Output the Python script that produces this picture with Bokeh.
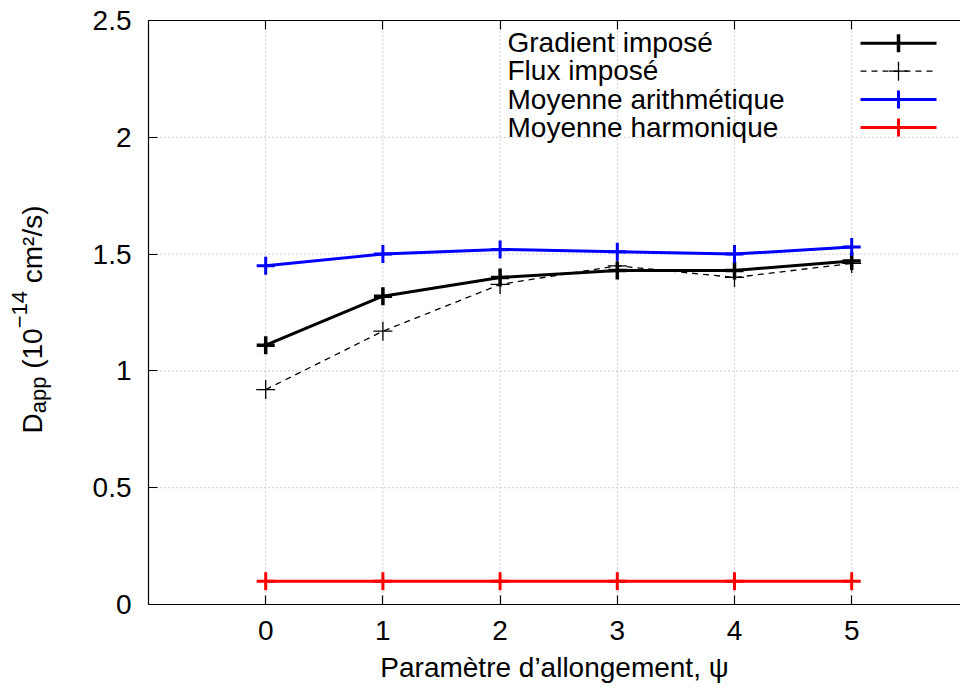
import math
from bokeh.plotting import figure
from bokeh.models import Range1d, FixedTicker, CustomJSTickFormatter, LinearAxis, Label, Arrow
from bokeh.embed import file_html
from bokeh.resources import INLINE

# ---------------- data ----------------
psi = [0, 1, 2, 3, 4, 5]
gradient_impose = [1.11, 1.32, 1.40, 1.43, 1.43, 1.47]
flux_impose = [0.92, 1.17, 1.37, 1.45, 1.40, 1.46]
moyenne_arithmetique = [1.45, 1.50, 1.52, 1.51, 1.50, 1.53]
moyenne_harmonique = [0.10, 0.10, 0.10, 0.10, 0.10, 0.10]

x_ticks = [0, 1, 2, 3, 4, 5]
y_ticks = [0, 0.5, 1, 1.5, 2, 2.5]
x_axis_start = -1

series_labels = ["Gradient imposé", "Flux imposé", "Moyenne arithmétique", "Moyenne harmonique"]
x_label = "Paramètre d\u2019allongement, \u03c8"
# y label pieces: (text, kind)  kind: main / sub / sup
y_label_parts = [("D", "main"), ("app", "sub"), (" (10", "main"), ("\u221214", "sup"), (" cm\u00b2/s)", "main")]

# ---------------- geometry / style ----------------
FONT = "Liberation Sans"
FS = 28
FS_SMALL = 22
W, H = 960, 693
FRAME_L, FRAME_T, FRAME_B = 148, 20, 604     # pixel box of the data area
PX_X = 117.2                                  # pixels per x unit
PX_Y = (FRAME_B - FRAME_T) / (y_ticks[-1] - y_ticks[0])
X_LO = x_axis_start - FRAME_L / PX_X
X_HI = x_axis_start + (W - FRAME_L) / PX_X
Y_LO = y_ticks[0] - (H - FRAME_B) / PX_Y
Y_HI = y_ticks[-1] + FRAME_T / PX_Y


def sy(img_y):
    return H - img_y


p = figure(width=W, height=H, output_backend="svg", toolbar_location=None,
           x_range=Range1d(X_LO, X_HI), y_range=Range1d(Y_LO, Y_HI),
           min_border_left=0, min_border_right=0, min_border_top=0, min_border_bottom=0)
p.outline_line_color = None
p.background_fill_color = "white"
p.border_fill_color = "white"
p.xgrid.visible = False
p.ygrid.visible = False

fmt = CustomJSTickFormatter(code="return tick.toString();")


def style_axis(ax):
    ax.major_tick_in = 9
    ax.major_tick_out = 0
    ax.minor_tick_in = 0
    ax.minor_tick_out = 0
    ax.axis_line_color = "black"
    ax.axis_line_width = 1.2
    ax.major_tick_line_color = "black"
    ax.major_tick_line_width = 1.2
    ax.major_label_text_font = FONT
    ax.major_label_text_font_size = f"{FS}px"
    ax.major_label_text_color = "black"


xa = p.xaxis[0]
ya = p.yaxis[0]
style_axis(xa)
style_axis(ya)
xa.ticker = FixedTicker(ticks=x_ticks)
ya.ticker = FixedTicker(ticks=y_ticks)
xa.formatter = fmt
ya.formatter = fmt
xa.fixed_location = y_ticks[0]
ya.fixed_location = x_axis_start
xa.bounds = (x_axis_start, X_HI)
ya.bounds = (y_ticks[0], y_ticks[-1])
xa.major_label_standoff = 16
ya.major_label_standoff = 17
xa.axis_label = x_label
xa.axis_label_text_font = FONT
xa.axis_label_text_font_size = f"{FS}px"
xa.axis_label_text_font_style = "normal"
xa.axis_label_text_color = "black"
xa.axis_label_standoff = 9

top_axis = LinearAxis(ticker=FixedTicker(ticks=x_ticks),
                      formatter=CustomJSTickFormatter(code="return '';"),
                      fixed_location=y_ticks[-1], bounds=(x_axis_start, X_HI))
style_axis(top_axis)
p.add_layout(top_axis, "above")

# ---------------- grid (dotted) ----------------
grid_style = dict(line_color="#a0a0a0", line_dash="1 3", line_width=1)
p.segment(x0=x_ticks, y0=[y_ticks[0]] * len(x_ticks), x1=x_ticks,
          y1=[y_ticks[-1]] * len(x_ticks), **grid_style)
inner_y = y_ticks[1:-1]
p.segment(x0=[x_axis_start] * len(inner_y), y0=inner_y, x1=[X_HI] * len(inner_y),
          y1=inner_y, **grid_style)

# ---------------- series ----------------
styles = [
    dict(y=gradient_impose, color="black", lw=3, dash="solid", mlw=3.5, size=18),
    dict(y=flux_impose, color="black", lw=1.3, dash="6 5", mlw=1.3, size=19),
    dict(y=moyenne_arithmetique, color="#0000ff", lw=3, dash="solid", mlw=3, size=18),
    dict(y=moyenne_harmonique, color="#ff0000", lw=3, dash="solid", mlw=3, size=18),
]
for s in styles:
    p.line(psi, s["y"], line_color=s["color"], line_width=s["lw"], line_dash=s["dash"])
    p.scatter(psi, s["y"], marker="cross", size=s["size"], line_color=s["color"],
              line_width=s["mlw"])

# ---------------- legend (manual, screen units) ----------------
LEG_TEXT_X = 507
LEG_ROW_Y = [42.7, 70.7, 99.0, 127.0]   # pixel rows from top
SAMPLE_X0, SAMPLE_X1, SAMPLE_XM = 860, 936, 898
for name, s, ry in zip(series_labels, styles, LEG_ROW_Y):
    p.add_layout(Label(x=LEG_TEXT_X, y=sy(ry - 0.5), x_units="screen", y_units="screen", text=name,
                       text_font=FONT, text_font_size=f"{FS}px", text_color="black",
                       text_align="left", text_baseline="middle"))
    yy = sy(ry)
    p.add_layout(Arrow(end=None, x_start=SAMPLE_X0, y_start=yy, x_end=SAMPLE_X1, y_end=yy,
                       start_units="screen", end_units="screen", line_color=s["color"],
                       line_width=s["lw"], line_dash=s["dash"]))
    half = s["size"] / 2
    p.add_layout(Arrow(end=None, x_start=SAMPLE_XM, y_start=yy - half, x_end=SAMPLE_XM,
                       y_end=yy + half, start_units="screen", end_units="screen",
                       line_color=s["color"], line_width=s["mlw"]))
    if s["dash"] != "solid":
        p.add_layout(Arrow(end=None, x_start=SAMPLE_XM - half, y_start=yy, x_end=SAMPLE_XM + half,
                           y_end=yy, start_units="screen", end_units="screen",
                           line_color=s["color"], line_width=s["mlw"]))

# ---------------- y axis label (with sub/superscript) ----------------
ARIAL = {"D": .722, "a": .556, "p": .556, " ": .278, "(": .333, "1": .556, "0": .556,
         "\u2212": .584, "4": .556, "c": .5, "m": .833, "\u00b2": .333, "/": .278,
         "s": .5, ")": .333}
MID_X = {"main": 32, "sub": 37.5, "sup": 19}


def text_w(t, fs):
    return sum(ARIAL.get(ch, 0.55) for ch in t) * fs


cur = sy(433)
for txt, kind in y_label_parts:
    fs = FS if kind == "main" else FS_SMALL
    core = txt.lstrip(" ")
    lead = txt[: len(txt) - len(core)]
    start = cur + text_w(lead, fs)
    p.add_layout(Label(x=MID_X[kind], y=start, x_units="screen", y_units="screen", text=core,
                       angle=math.pi / 2, text_font=FONT, text_font_size=f"{fs}px",
                       text_color="black", text_align="left", text_baseline="middle"))
    cur = start + text_w(core, fs)

open("out.html", "w").write(file_html(p, INLINE))
